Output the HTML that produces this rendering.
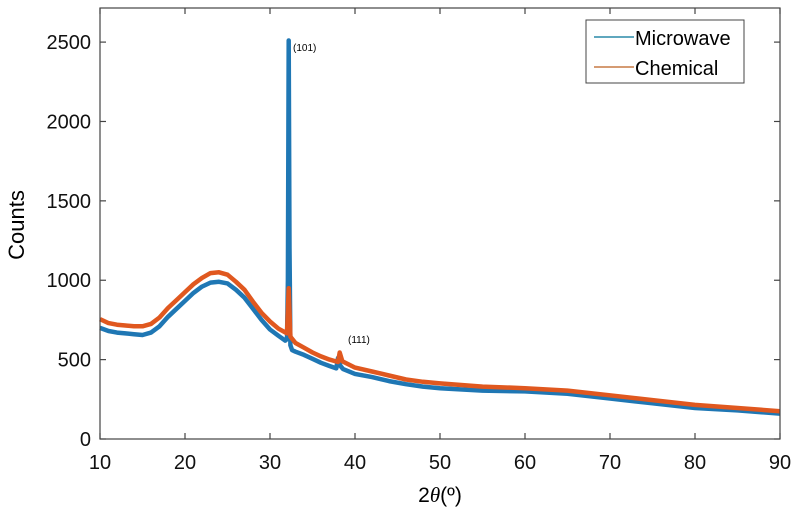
<!DOCTYPE html>
<html><head><meta charset="utf-8"><style>
body{margin:0;background:#fff}
svg{font-family:"Liberation Sans",Arial,sans-serif}
</style></head><body>
<svg width="800" height="517" viewBox="0 0 800 517">
<g id="plot"></g>
<rect x="100" y="8" width="680" height="431" fill="none" stroke="#444" stroke-width="1.2"/>
<g id="ticks" stroke="#444" stroke-width="1.2"></g>
<g id="labels" font-size="20" fill="#111"></g>
<text x="24" y="225" font-size="22" text-anchor="middle" transform="rotate(-90 24 225)">Counts</text>
<text x="440" y="502" font-size="21" text-anchor="middle">2<tspan font-family="Liberation Serif" font-style="italic">θ</tspan>(º)</text>
<text x="293" y="51" font-size="10">(101)</text>
<text x="348" y="343" font-size="10">(111)</text>
<g>
<rect x="586" y="20" width="158" height="63" fill="#fff" stroke="#444" stroke-width="1"/>
<line x1="594" y1="37" x2="634" y2="37" stroke="#2a8aa8" stroke-width="1.5"/>
<text x="635" y="45" font-size="20">Microwave</text>
<line x1="594" y1="67" x2="634" y2="67" stroke="#c77a45" stroke-width="1.5"/>
<text x="635" y="75" font-size="20">Chemical</text>
</g>
</svg>
<script>
const microX=[10,11,12,13,14,15,16,17,18,19,20,21,22,23,24,25,26,27,28,29,30,31,31.8,32.0,32.1,32.2,32.3,32.4,32.6,33,34,35,36,37,37.8,38.0,38.3,38.6,40,42,44,46,48,50,55,60,65,70,75,80,85,90];
const microY=[700,680,670,665,660,655,670,710,770,820,870,920,960,985,990,980,940,890,820,750,690,650,620,630,1000,2510,1200,590,560,550,530,505,480,460,445,510,460,440,410,390,365,345,330,320,305,300,285,255,225,195,180,160];
const chemX=[10,11,12,13,14,15,16,17,18,19,20,21,22,23,24,25,26,27,28,29,30,31,32.0,32.2,32.4,33,34,35,36,37,38.0,38.2,38.5,40,42,44,46,48,50,55,60,65,70,75,80,85,90];
const chemY=[755,730,720,715,710,710,725,765,825,875,925,975,1015,1045,1050,1035,990,940,865,795,740,695,665,950,645,605,575,545,520,500,485,545,490,450,425,400,375,360,350,330,320,305,275,245,215,195,175];
const xTicks=[10,20,30,40,50,60,70,80,90];
const yTicks=[0,500,1000,1500,2000,2500];
const X=v=>100+(v-10)*8.5, Y=v=>439-v*0.15876;
const NS='http://www.w3.org/2000/svg';
const plot=document.getElementById('plot');
function line(xs,ys,col,w,name){
 const p=document.createElementNS(NS,'polyline');
 p.setAttribute('points',xs.map((x,i)=>X(x).toFixed(1)+','+Y(ys[i]).toFixed(1)).join(' '));
 p.setAttribute('fill','none');p.setAttribute('stroke',col);p.setAttribute('stroke-width',w);p.setAttribute('stroke-linejoin','round');
 
 
 plot.appendChild(p);
}
line(microX,microY,'#1f77b4',4.5,'series-microwave');
line(chemX,chemY,'#e0581f',4.5,'series-chemical');
const tk=document.getElementById('ticks'),lb=document.getElementById('labels');
xTicks.forEach(t=>{
 const l=document.createElementNS(NS,'line');
 l.setAttribute('x1',X(t));l.setAttribute('x2',X(t));l.setAttribute('y1',439);l.setAttribute('y2',433);
 
 
 tk.appendChild(l);
 const l2=document.createElementNS(NS,'line');
 l2.setAttribute('x1',X(t));l2.setAttribute('x2',X(t));l2.setAttribute('y1',8);l2.setAttribute('y2',14);
 
 
 tk.appendChild(l2);
 const s=document.createElementNS(NS,'text');
 s.setAttribute('x',X(t));s.setAttribute('y',469);s.setAttribute('text-anchor','middle');s.textContent=t;
 
 
 lb.appendChild(s);
});
yTicks.forEach(t=>{
 const l=document.createElementNS(NS,'line');
 l.setAttribute('x1',100);l.setAttribute('x2',106);l.setAttribute('y1',Y(t));l.setAttribute('y2',Y(t));
 
 
 tk.appendChild(l);
 const l2=document.createElementNS(NS,'line');
 l2.setAttribute('x1',774);l2.setAttribute('x2',780);l2.setAttribute('y1',Y(t));l2.setAttribute('y2',Y(t));
 
 
 tk.appendChild(l2);
 const s=document.createElementNS(NS,'text');
 s.setAttribute('x',91);s.setAttribute('y',Y(t)+7);s.setAttribute('text-anchor','end');s.textContent=t;
 
 
 lb.appendChild(s);
});
</script>
</body></html>
